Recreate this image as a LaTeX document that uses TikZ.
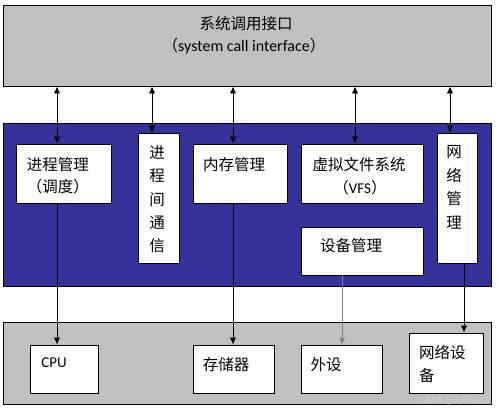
\documentclass[tikz,border=0pt]{standalone}
\usepackage{fontspec}
\setmainfont{Carlito}
\newfontfamily\cjk{Noto Sans CJK SC}
\usetikzlibrary{arrows.meta}
\definecolor{panelgray}{HTML}{C0C0C0}
\definecolor{kernelblue}{HTML}{333399}
\tikzset{
  box/.style={draw=black,line width=0.9pt,fill=white,inner sep=0pt},
  panel/.style={draw=black,line width=0.9pt,fill=panelgray,inner sep=0pt},
  txt/.style={inner sep=0pt,font=\cjk\fontsize{15.5}{17}\selectfont},
  link/.style={line width=0.9pt,-{Latex[length=7pt,width=6.5pt]}},
  dlink/.style={line width=0.9pt,{Latex[length=7pt,width=6.5pt]}-{Latex[length=7pt,width=6.5pt]}},
}
\begin{document}
\begin{tikzpicture}[x=1pt,y=-1pt]
\useasboundingbox[fill=white] (0,0) rectangle (499,410);
% panels
\node[panel,minimum width=488pt,minimum height=81pt] (sci) at (247,45.5) {};
\node[draw=black,line width=0.9pt,fill=kernelblue,minimum width=488pt,minimum height=163pt,inner sep=0pt] (kern) at (247,204.5) {};
\node[panel,minimum width=488pt,minimum height=82pt] (hw) at (247,363) {};
% kernel boxes
\node[box,minimum width=95pt,minimum height=59pt] (pm) at (63.5,173.5) {};
\node[box,minimum width=41pt,minimum height=130pt] (ipc) at (158.5,198) {};
\node[box,minimum width=94pt,minimum height=59pt] (mm) at (240,173.5) {};
\node[box,minimum width=122pt,minimum height=59pt] (vfs) at (362,173.5) {};
\node[box,minimum width=122pt,minimum height=48pt] (dev) at (362,251) {};
\node[box,minimum width=40pt,minimum height=130pt] (net) at (457,198) {};
% hardware boxes
\node[box,minimum width=68pt,minimum height=48pt] (cpu) at (64,369) {};
\node[box,minimum width=81pt,minimum height=48pt] (mem) at (233.5,369) {};
\node[box,minimum width=81pt,minimum height=48pt] (per) at (341.5,369) {};
\node[box,minimum width=74pt,minimum height=60pt] (nic) at (446,363) {};
% texts
\node[txt] (t1) at (246,24) {系统调用接口};
\node[txt] (t2) at (244,46) {（{\rmfamily\fontsize{16}{17}\selectfont system call interface}）};
\node[txt] (t3) at (58,165) {进程管理};
\node[txt] (t4) at (58,187) {（调度）};
\node[txt,align=center,font=\cjk\fontsize{15.5}{23.3}\selectfont] (t5) at (157,199.5) {进\\程\\间\\通\\信};
\node[txt,anchor=west] (t6) at (203,165) {内存管理};
\node[txt] (t7) at (359,165) {虚拟文件系统};
\node[txt] (t8) at (360,188) {（{\rmfamily\fontsize{15}{17}\selectfont VFS}）};
\node[txt] (t9) at (351,246) {设备管理};
\node[txt,align=center,font=\cjk\fontsize{15.5}{23.5}\selectfont] (t10) at (454,187.5) {网\\络\\管\\理};
\node[inner sep=0pt,font=\rmfamily\fontsize{15}{17}\selectfont] (t11) at (54,363) {CPU};
\node[txt] (t12) at (226,365) {存储器};
\node[txt] (t13) at (326,365) {外设};
\node[txt,anchor=west] (t14) at (419,353) {网络设};
\node[txt,anchor=west] (t15) at (419,376) {备};
\node[inner sep=0pt,anchor=south east,text=gray!35,font=\cjk\fontsize{8.5}{9}\selectfont] (wm) at (489,405) {CSDN @天明2027};
% connectors
\coordinate (x1) at (57,0);
\coordinate (x2) at (152,0);
\coordinate (x3) at (233,0);
\coordinate (x4) at (355,0);
\coordinate (x5) at (450,0);
\coordinate (x6) at (342,0);
\coordinate (x7) at (464,0);
\draw[dlink] (sci.south -| x1) -- (pm.north -| x1);
\draw[dlink] (sci.south -| x2) -- (ipc.north -| x2);
\draw[dlink] (sci.south -| x3) -- (mm.north -| x3);
\draw[dlink] (sci.south -| x4) -- (vfs.north -| x4);
\draw[dlink] (sci.south -| x5) -- (net.north -| x5);
\draw[link] (pm.south -| x1) -- (cpu.north -| x1);
\draw[link] (mm.south -| x3) -- (mem.north -| x3);
\draw[link,draw=gray] (dev.south -| x6) -- (per.north -| x6);
\draw[link] (net.south -| x7) -- (nic.north -| x7);
\end{tikzpicture}
\end{document}
